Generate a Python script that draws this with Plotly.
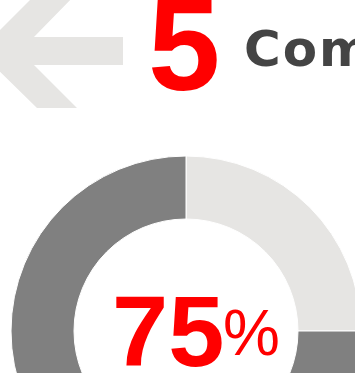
import plotly.graph_objects as go

# ---- data ----
segment_labels = ["Rest", "Share"]
segment_values = [25, 75]
segment_colors = ["#e6e5e3", "#808080"]
rank_number = "5"
heading_text = "Companies"
pct_number = "75"
pct_sign = "%"

W, H = 362, 507

def px(x):
    return x / W

def py(y):
    return 1 - y / H

fig = go.Figure()
fig.add_trace(go.Pie(
    labels=segment_labels,
    values=segment_values,
    marker=dict(colors=segment_colors, line=dict(color="white", width=1)),
    hole=0.64,
    sort=False,
    direction="clockwise",
    rotation=0,
    textinfo="none",
    hoverinfo="label+percent",
    showlegend=False,
    domain=dict(x=[px(11), px(361)], y=[py(506), py(156)]),
))

# decorative arrow (pixel coords -> paper)
pts = [(-21, 51), (36, -6), (76, -6), (34, 37), (123, 37), (123, 65),
       (34, 65), (77, 108), (37, 108)]
path = "M " + " L ".join(f"{px(x):.5f},{py(y):.5f}" for x, y in pts) + " Z"
fig.add_shape(type="path", xref="paper", yref="paper", path=path,
              fillcolor="#e6e5e3", line=dict(width=0), layer="below")

FONT = "Liberation Sans, Arial, sans-serif"
fig.add_annotation(text=rank_number, x=px(146), y=py(45), xref="paper", yref="paper",
                   xanchor="left", yanchor="middle", showarrow=False,
                   font=dict(family=FONT, size=130, color="#ff0000", weight="bold"))
fig.add_annotation(text=f'<span style="letter-spacing:2px">{heading_text}</span>',
                   x=px(242), y=py(49), xref="paper", yref="paper",
                   xanchor="left", yanchor="middle", showarrow=False,
                   font=dict(family="DejaVu Sans", size=50, color="#444444", weight="bold"))
fig.add_annotation(text=pct_number, x=px(110), y=py(331), xref="paper", yref="paper",
                   xanchor="left", yanchor="middle", showarrow=False,
                   font=dict(family=FONT, size=101, color="#ff0000", weight="bold"))
fig.add_annotation(text=pct_sign, x=px(221), y=py(333), xref="paper", yref="paper",
                   xanchor="left", yanchor="middle", showarrow=False,
                   font=dict(family=FONT, size=64, color="#ff0000"))

fig.update_layout(width=W, height=H, margin=dict(l=0, r=0, t=0, b=0),
                  paper_bgcolor="white", plot_bgcolor="white")

fig.write_html("out.html", config={"displayModeBar": False},
               post_script="document.documentElement.style.overflow='hidden';"
                           "document.body.style.overflow='hidden';"
                           "document.body.style.margin='0';")
